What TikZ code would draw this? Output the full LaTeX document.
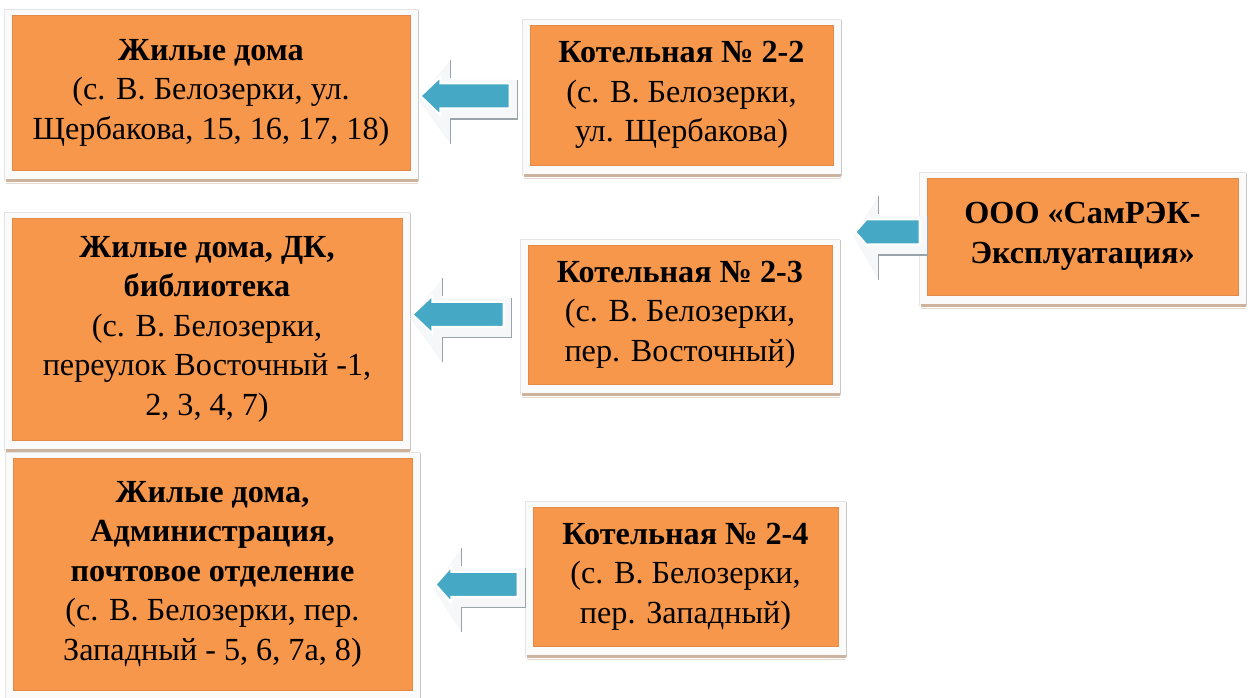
\documentclass[tikz,border=0pt]{standalone}
\usepackage{fontspec}
\setmainfont{Liberation Serif}
\usetikzlibrary{calc,backgrounds}
\definecolor{boxorange}{HTML}{F6974C}
\definecolor{boxedge}{HTML}{E3894A}
\definecolor{framefill}{HTML}{FAFAFA}
\definecolor{framegray}{HTML}{C9C9C9}
\definecolor{shadowtan}{HTML}{CDB39E}
\definecolor{arrowblue}{HTML}{45A8C4}
\definecolor{arrowshade}{HTML}{F5F7F8}
\definecolor{arrowedge}{HTML}{9AA4A8}
\tikzset{
  obox/.style={rectangle, fill=boxorange, draw=boxedge, line width=0.8pt,
    inner sep=0pt, align=center, font=\fontsize{32.2}{39.5}\selectfont},
}
% #1 tip, #2 tail, #3 head length, #4 head half height
\newcommand\myblockarrow[4]{%
  \fill[arrowshade] let \p1=#1, \p2=#2 in
    (\x1-2pt,\y1-4pt) -- (\x1+#3pt+10pt,\y1+36pt) -- (\x1+#3pt+10pt,\y1+16pt)
    -- (\x2+8pt,\y1+16pt) -- (\x2+8pt,\y1-23pt) -- (\x1+#3pt+10pt,\y1-23pt)
    -- (\x1+#3pt+10pt,\y1-48pt) -- cycle;
  \draw[arrowedge, line width=1.6pt] let \p1=#1, \p2=#2 in
    (\x1+#3pt+10pt,\y1+36pt) -- (\x1+#3pt+10pt,\y1+18pt)
    (\x2+8pt,\y1+16pt) -- (\x2+8pt,\y1-23pt) -- (\x1+#3pt+10pt,\y1-23pt)
    -- (\x1+#3pt+10pt,\y1-48pt);
  \draw[white, line width=2pt, fill=arrowblue, line join=miter] let \p1=#1, \p2=#2 in
    (\x1,\y1) -- (\x1+#3pt,\y1+#4pt) -- (\x1+#3pt,\y1+12.5pt)
    -- (\x2,\y1+12.5pt) -- (\x2,\y1-12.5pt) -- (\x1+#3pt,\y1-12.5pt)
    -- (\x1+#3pt,\y1-#4pt) -- cycle;
}
\newcommand\oboxframe[1]{%
  \fill[framefill] ([shift={(-7,-11)}]#1.south west) rectangle ([shift={(8,5)}]#1.north east);
  \draw[framegray!50, line width=0.8pt] ([shift={(-7,-11)}]#1.south west) -- ([shift={(-7,5)}]#1.north west) -- ([shift={(8,5)}]#1.north east);
  \draw[framegray, line width=1.4pt] ([shift={(8,5)}]#1.north east) -- ([shift={(8,-11)}]#1.south east);
  \draw[shadowtan, line width=2.5pt] ([shift={(-6,-10)}]#1.south west) -- ([shift={(8,-10)}]#1.south east);
  \draw[shadowtan!50, line width=1pt] ([shift={(-6,-13)}]#1.south west) -- ([shift={(8,-13)}]#1.south east);
}
\begin{document}
\begin{tikzpicture}[x=1pt,y=1pt]
\useasboundingbox (0,0) rectangle (1252,698);

\node[obox, minimum width=398, minimum height=155] (L1) at (211,605.5)
  {\textbf{Жилые дома}\\(с. В. Белозерки, ул.\\Щербакова, 15, 16, 17, 18)};
\node[obox, minimum width=303, minimum height=140] (K22) at (681.5,603)
  {\textbf{Котельная № 2-2}\\(с. В. Белозерки,\\ул. Щербакова)};
\node[obox, minimum width=311, minimum height=117] (OOO) at (1082.5,461.5)
  {\textbf{ООО «СамРЭК-}\\\textbf{Эксплуатация»}};
\node[obox, minimum width=390, minimum height=222] (L2) at (207,369)
  {\textbf{Жилые дома, ДК,}\\\textbf{библиотека}\\(с. В. Белозерки,\\переулок Восточный -1,\\2, 3, 4, 7)};
\node[obox, minimum width=304, minimum height=139] (K23) at (680,383.5)
  {\textbf{Котельная № 2-3}\\(с. В. Белозерки,\\пер. Восточный)};
\node[obox, minimum width=399, minimum height=232] (L3) at (212.5,124)
  {\textbf{Жилые дома,}\\\textbf{Администрация,}\\\textbf{почтовое отделение}\\(с. В. Белозерки, пер.\\Западный - 5, 6, 7а, 8)};
\node[obox, minimum width=305, minimum height=139] (K24) at (685.5,121.5)
  {\textbf{Котельная № 2-4}\\(с. В. Белозерки,\\пер. Западный)};

\begin{scope}[on background layer]
  \fill[white] (0,0) rectangle (1252,698);
  \foreach \n in {L1,K22,OOO,L2,K23,L3,K24} {\oboxframe{\n}}
\end{scope}

\coordinate (t1) at ($(L1.east |- K22.west)+(10,-1)$);
\coordinate (e1) at ($(K22.west)+(-20,0)$);
\coordinate (t2) at ($(L2.east |- K23.west)+(10,0)$);
\coordinate (e2) at ($(K23.west)+(-24,0)$);
\coordinate (t3) at ($(L3.east |- K24.west)+(23,-8)$);
\coordinate (e3) at ($(K24.west)+(-15,0)$);
\coordinate (t4) at ($(K22.east |- OOO.west)+(22,4.5)$);
\coordinate (e4) at ($(OOO.west)+(-7,0)$);

\myblockarrow{(t1)}{(e1)}{20}{19}
\myblockarrow{(t2)}{(e2)}{20}{19}
\myblockarrow{(t3)}{(e3)}{16}{18}
\myblockarrow{(t4)}{(e4)}{13}{15}
\end{tikzpicture}
\end{document}
